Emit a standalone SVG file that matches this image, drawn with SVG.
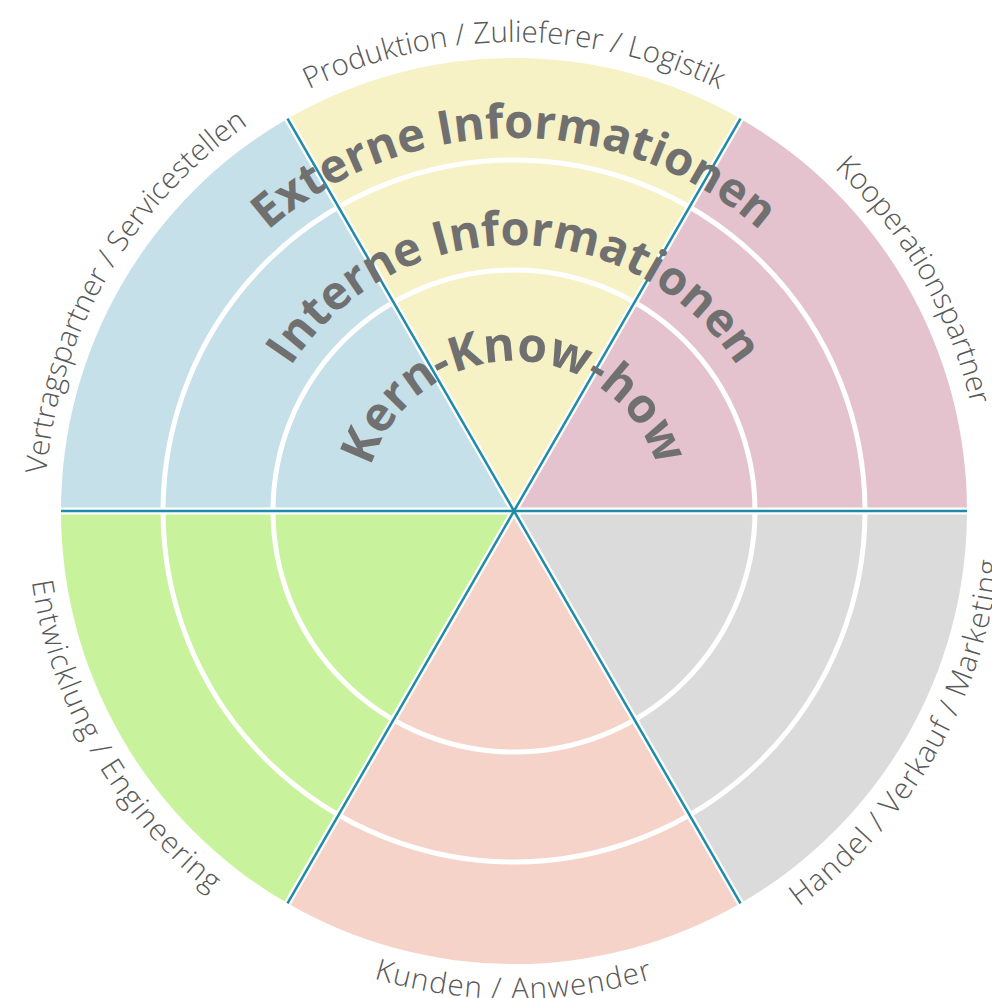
<svg xmlns="http://www.w3.org/2000/svg" xmlns:xlink="http://www.w3.org/1999/xlink" width="992" height="998" viewBox="0 0 992 998">
<defs>
<style>
.big{font-family:"Open Sans","Noto Sans","Liberation Sans",sans-serif;font-weight:700;font-size:47px;fill:#707070;}
.lbl{font-family:"Open Sans","Noto Sans","Liberation Sans",sans-serif;font-weight:300;font-size:29.5px;fill:#585858;}
.lblb{letter-spacing:1.2px;}
.ring{fill:none;stroke:#ffffff;stroke-width:5;}
.halo{stroke:#ffffff;stroke-width:7;}
.div{stroke:#1f8ba9;stroke-width:2.5;}
</style>
<path id="pExt" d="M 141 511 A 373 373 0 0 1 887 511"/>
<path id="pInt" d="M 248 511 A 266 266 0 0 1 780 511"/>
<path id="pKern" d="M 364 511 A 150 150 0 0 1 664 511"/>
<path id="pTop" d="M 45 511 A 469 469 0 0 1 983 511"/>
<path id="pTR" d="M 279.5 104.83 A 469 469 0 0 1 748.5 917.17"/>
<path id="pTL" d="M 279.5 917.17 A 469 469 0 0 1 748.5 104.83"/>
<path id="pBot" d="M 26 511 A 488 488 0 0 0 1002 511"/>
<path id="pBL" d="M 270 88.38 A 488 488 0 0 0 758 933.62"/>
<path id="pBR" d="M 270 933.62 A 488 488 0 0 0 758 88.38"/>
</defs>
<rect width="992" height="998" fill="#ffffff"/>
<g id="sectors">
<g id="s-produktion"><path d="M 514 511 L 287.5 118.69 A 453 453 0 0 1 740.5 118.69 Z" fill="#F7F1C6"/></g>
<g id="s-kooperation"><path d="M 514 511 L 740.5 118.69 A 453 453 0 0 1 967 511 Z" fill="#E4C3CE"/></g>
<g id="s-handel"><path d="M 514 511 L 967 511 A 453 453 0 0 1 740.5 903.31 Z" fill="#DBDBDB"/></g>
<g id="s-kunden"><path d="M 514 511 L 740.5 903.31 A 453 453 0 0 1 287.5 903.31 Z" fill="#F6D3C8"/></g>
<g id="s-entwicklung"><path d="M 514 511 L 287.5 903.31 A 453 453 0 0 1 61 511 Z" fill="#C9F29C"/></g>
<g id="s-vertrag"><path d="M 514 511 L 61 511 A 453 453 0 0 1 287.5 118.69 Z" fill="#C5E0E9"/></g>
</g>
<g id="rings">
<circle class="ring" cx="514" cy="511" r="241"/>
<circle class="ring" cx="514" cy="511" r="351"/>
</g>
<g id="connectors">
<line class="halo" x1="61" y1="511" x2="967" y2="511"/>
<line class="halo" x1="287.5" y1="118.69" x2="740.5" y2="903.31"/>
<line class="halo" x1="740.5" y1="118.69" x2="287.5" y2="903.31"/>
<line class="div" x1="61" y1="511" x2="967" y2="511"/>
<line class="div" x1="287.5" y1="118.69" x2="740.5" y2="903.31"/>
<line class="div" x1="740.5" y1="118.69" x2="287.5" y2="903.31"/>
</g>
<g id="layers">
<text class="big"><textPath xlink:href="#pExt" href="#pExt" startOffset="50%" text-anchor="middle">Externe Informationen</textPath></text>
<text class="big"><textPath xlink:href="#pInt" href="#pInt" startOffset="50%" text-anchor="middle">Interne Informationen</textPath></text>
<text class="big" style="font-size:48px"><textPath xlink:href="#pKern" href="#pKern" startOffset="50%" text-anchor="middle">Kern-Know-how</textPath></text>
</g>
<g id="labels">
<text class="lbl"><textPath xlink:href="#pTop" href="#pTop" startOffset="50%" text-anchor="middle">Produktion / Zulieferer / Logistik</textPath></text>
<text class="lbl"><textPath xlink:href="#pTR" href="#pTR" startOffset="50%" text-anchor="middle">Kooperationspartner</textPath></text>
<text class="lbl"><textPath xlink:href="#pTL" href="#pTL" startOffset="50%" text-anchor="middle">Vertragspartner / Servicestellen</textPath></text>
<text class="lbl lblb"><textPath xlink:href="#pBot" href="#pBot" startOffset="50%" text-anchor="middle">Kunden / Anwender</textPath></text>
<text class="lbl lblb"><textPath xlink:href="#pBL" href="#pBL" startOffset="50%" text-anchor="middle">Entwicklung / Engineering</textPath></text>
<text class="lbl lblb"><textPath xlink:href="#pBR" href="#pBR" startOffset="50%" text-anchor="middle">Handel / Verkauf / Marketing</textPath></text>
</g>
</svg>
